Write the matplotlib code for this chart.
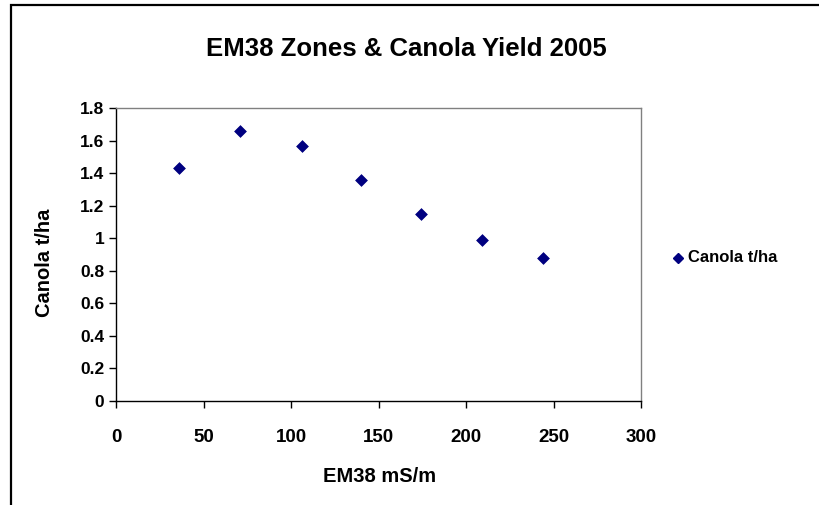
import matplotlib
matplotlib.use('Agg')
import matplotlib.pyplot as plt
from matplotlib.patches import Rectangle
from matplotlib.lines import Line2D

plt.rcParams['font.family'] = ['Liberation Sans', 'DejaVu Sans']
plt.rcParams['font.weight'] = 'bold'

# EM38 zone (mS/m) vs canola yield (t/ha), 2005
em38 = [36, 71, 106, 140, 174, 209, 244]
canola = [1.43, 1.66, 1.57, 1.36, 1.15, 0.99, 0.88]
xticks = [0, 50, 100, 150, 200, 250, 300]
yticks = [0, 0.2, 0.4, 0.6, 0.8, 1, 1.2, 1.4, 1.6, 1.8]
ylabels = ['0', '0.2', '0.4', '0.6', '0.8', '1', '1.2', '1.4', '1.6', '1.8']

fig = plt.figure(figsize=(8.2, 5.05), dpi=100)

# chart area frame (partly cut off at right/bottom like the screenshot)
fig.patches.append(Rectangle((11 / 820, -0.05), 1.2, 1 - 5 / 505 + 0.05,
                             transform=fig.transFigure, fill=False,
                             edgecolor='black', linewidth=1.6))

ax = fig.add_axes([0.1415, 0.2065, 0.7817 - 0.1415, 0.7857 - 0.2065])
ax.scatter(em38, canola, marker='D', s=36, color='#000080', zorder=3,
           edgecolors='#000080', linewidths=0.5)

ax.set_xlim(0, 300)
ax.set_ylim(0, 1.8)
ax.set_xticks(xticks)
ax.set_yticks(yticks)
ax.set_yticklabels(ylabels)
ax.tick_params(direction='out', length=5, width=1, colors='black')
ax.tick_params(axis='x', labelsize=13.5, pad=15.5)
ax.tick_params(axis='y', labelsize=12.5, pad=3.5)
for lab in ax.get_xticklabels() + ax.get_yticklabels():
    lab.set_fontweight('bold')

ax.spines['left'].set_color('black')
ax.spines['bottom'].set_color('black')
ax.spines['top'].set_color('#808080')
ax.spines['right'].set_color('#808080')
for s in ax.spines.values():
    s.set_linewidth(1)

fig.text(406 / 820, 1 - 49 / 505, 'EM38 Zones & Canola Yield 2005',
         ha='center', va='center', fontsize=18.5, fontweight='bold')
fig.text(380 / 820, 1 - 477 / 505, 'EM38 mS/m', ha='center', va='center',
         fontsize=14.5, fontweight='bold')
fig.text(45 / 820, 1 - 263 / 505, 'Canola t/ha', ha='center', va='center',
         rotation=90, fontsize=14.5, fontweight='bold')

# legend
fig.lines.append(Line2D([678 / 820], [1 - 258 / 505], marker='D',
                        markersize=5.5, color='#000080', linestyle='none',
                        transform=fig.transFigure))
fig.text(688 / 820, 1 - 258 / 505, 'Canola t/ha', ha='left', va='center',
         fontsize=12, fontweight='bold')

fig.savefig('out.png', dpi=100)
